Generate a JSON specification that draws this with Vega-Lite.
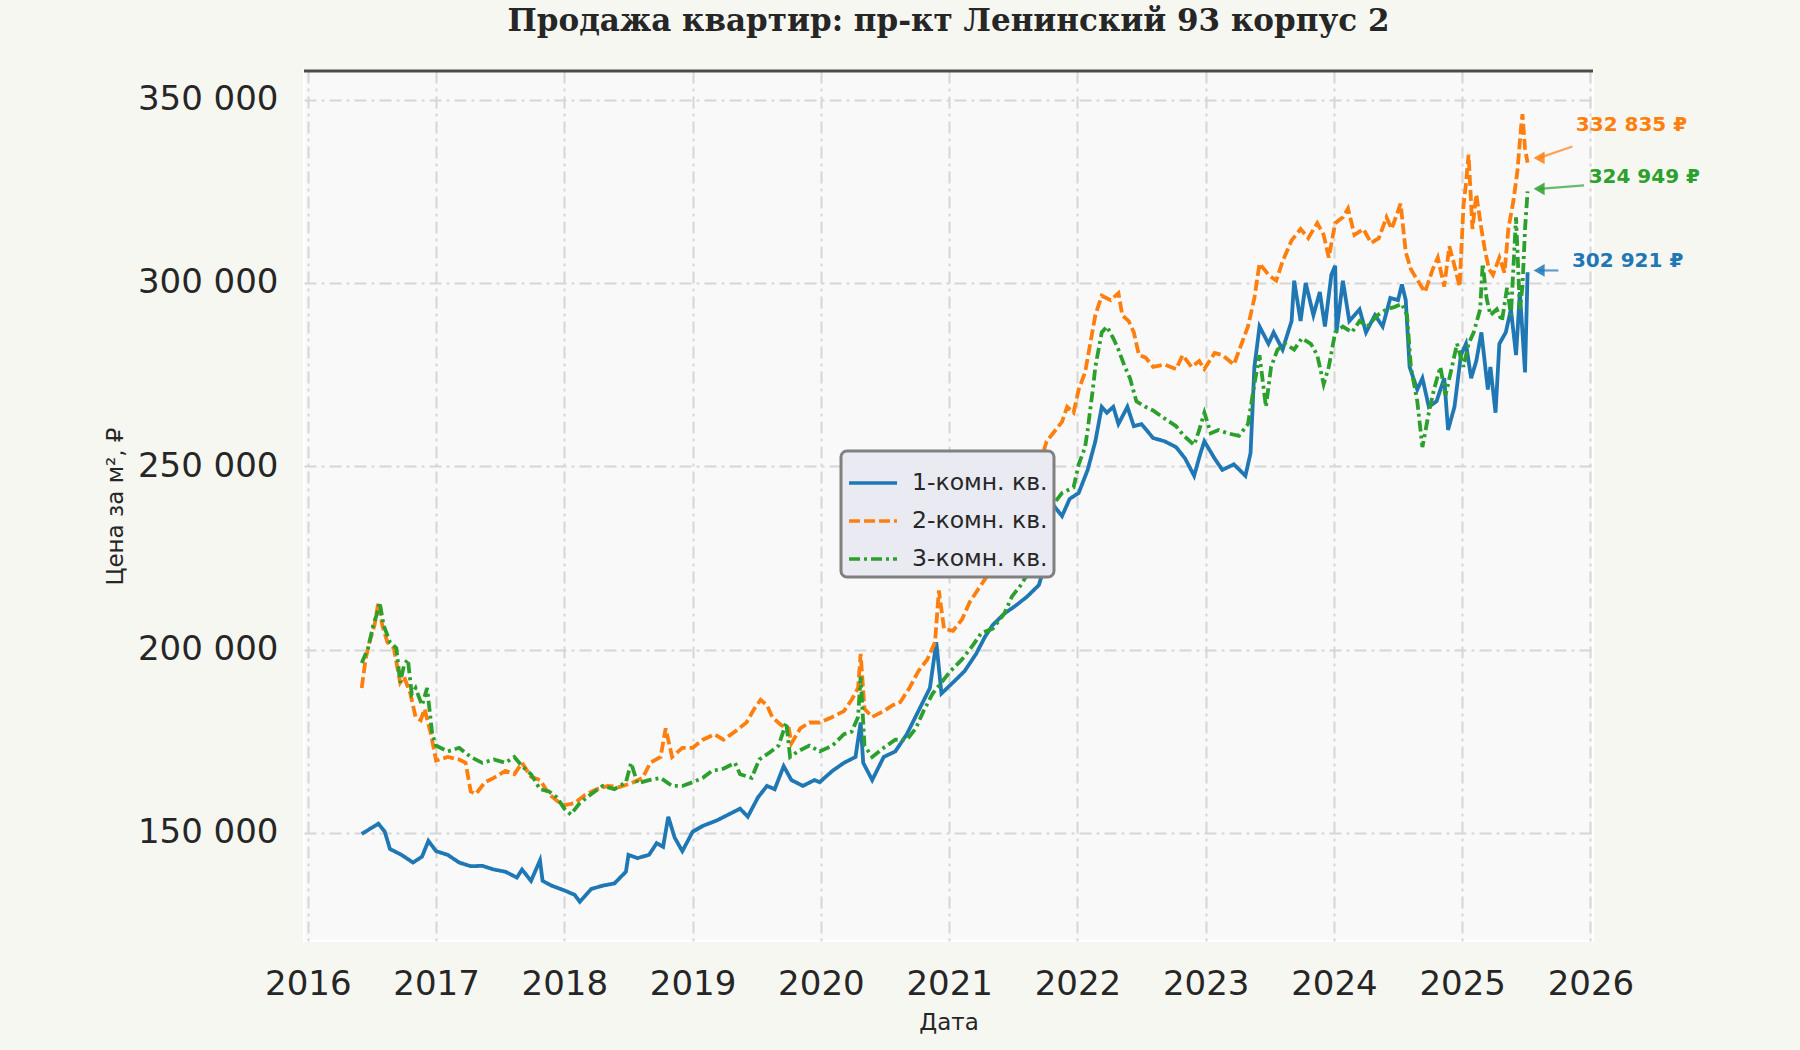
{
  "$schema": "https://vega.github.io/schema/vega-lite/v6.json",
  "width": 1289,
  "height": 870,
  "autosize": {"type": "none"},
  "padding": {"left": 304, "top": 71, "right": 207, "bottom": 109},
  "background": "#f7f7f2",
  "title": {
    "text": "Продажа квартир: пр-кт Ленинский 93 корпус 2",
    "font": "DejaVu Serif",
    "fontSize": 31,
    "fontWeight": "bold",
    "color": "#262626",
    "anchor": "middle",
    "offset": 32
  },
  "config": {
    "view": {"fill": "#f9f9fa", "stroke": "#ffffff", "strokeWidth": 2},
    "axis": {
      "labelFont": "DejaVu Sans",
      "labelFontSize": 34,
      "labelColor": "#262626",
      "titleFont": "DejaVu Sans",
      "titleFontWeight": "normal",
      "titleColor": "#262626",
      "domain": false,
      "ticks": false,
      "grid": true,
      "gridColor": "#d6d6d6",
      "gridWidth": 2,
      "gridDash": [12, 5, 3, 5]
    },
    "legend": {
      "orient": "none",
      "legendX": 537,
      "legendY": 380,
      "fillColor": "#eaeaf2",
      "strokeColor": "#808080",
      "strokeWidth": 3,
      "cornerRadius": 6,
      "padding": 6,
      "labelFont": "DejaVu Sans",
      "labelFontSize": 23.5,
      "labelColor": "#262626",
      "labelOffset": 13,
      "symbolType": "stroke",
      "symbolSize": 2300,
      "symbolStrokeWidth": 3.5,
      "rowPadding": -4
    }
  },
  "datasets": {
    "series": [
      {"k": "1-комн. кв.", "t": 2016.42, "p": 149700},
      {"k": "1-комн. кв.", "t": 2016.55, "p": 152500},
      {"k": "1-комн. кв.", "t": 2016.60, "p": 150300},
      {"k": "1-комн. кв.", "t": 2016.64, "p": 145600},
      {"k": "1-комн. кв.", "t": 2016.73, "p": 144000},
      {"k": "1-комн. кв.", "t": 2016.82, "p": 141900},
      {"k": "1-комн. кв.", "t": 2016.89, "p": 143500},
      {"k": "1-комн. кв.", "t": 2016.94, "p": 147800},
      {"k": "1-комн. кв.", "t": 2017.00, "p": 145000},
      {"k": "1-комн. кв.", "t": 2017.09, "p": 144000},
      {"k": "1-комн. кв.", "t": 2017.18, "p": 141900},
      {"k": "1-комн. кв.", "t": 2017.27, "p": 140900},
      {"k": "1-комн. кв.", "t": 2017.36, "p": 141000},
      {"k": "1-комн. кв.", "t": 2017.45, "p": 140000},
      {"k": "1-комн. кв.", "t": 2017.54, "p": 139400},
      {"k": "1-комн. кв.", "t": 2017.63, "p": 137800},
      {"k": "1-комн. кв.", "t": 2017.67, "p": 140000},
      {"k": "1-комн. кв.", "t": 2017.74, "p": 136900},
      {"k": "1-комн. кв.", "t": 2017.81, "p": 142500},
      {"k": "1-комн. кв.", "t": 2017.83, "p": 136900},
      {"k": "1-комн. кв.", "t": 2017.90, "p": 135600},
      {"k": "1-комн. кв.", "t": 2018.00, "p": 134300},
      {"k": "1-комн. кв.", "t": 2018.08, "p": 133100},
      {"k": "1-комн. кв.", "t": 2018.12, "p": 131200},
      {"k": "1-комн. кв.", "t": 2018.21, "p": 134700},
      {"k": "1-комн. кв.", "t": 2018.30, "p": 135600},
      {"k": "1-комн. кв.", "t": 2018.39, "p": 136200},
      {"k": "1-комн. кв.", "t": 2018.48, "p": 139400},
      {"k": "1-комн. кв.", "t": 2018.50, "p": 144000},
      {"k": "1-комн. кв.", "t": 2018.57, "p": 143100},
      {"k": "1-комн. кв.", "t": 2018.66, "p": 144000},
      {"k": "1-комн. кв.", "t": 2018.72, "p": 147200},
      {"k": "1-комн. кв.", "t": 2018.77, "p": 146200},
      {"k": "1-комн. кв.", "t": 2018.81, "p": 154400},
      {"k": "1-комн. кв.", "t": 2018.86, "p": 148700},
      {"k": "1-комн. кв.", "t": 2018.92, "p": 145000},
      {"k": "1-комн. кв.", "t": 2019.00, "p": 150300},
      {"k": "1-комн. кв.", "t": 2019.08, "p": 151900},
      {"k": "1-комн. кв.", "t": 2019.19, "p": 153400},
      {"k": "1-комн. кв.", "t": 2019.28, "p": 155000},
      {"k": "1-комн. кв.", "t": 2019.37, "p": 156600},
      {"k": "1-комн. кв.", "t": 2019.43, "p": 154400},
      {"k": "1-комн. кв.", "t": 2019.51, "p": 159700},
      {"k": "1-комн. кв.", "t": 2019.58, "p": 162800},
      {"k": "1-комн. кв.", "t": 2019.64, "p": 161900},
      {"k": "1-комн. кв.", "t": 2019.71, "p": 168200},
      {"k": "1-комн. кв.", "t": 2019.77, "p": 164400},
      {"k": "1-комн. кв.", "t": 2019.86, "p": 162800},
      {"k": "1-комн. кв.", "t": 2019.95, "p": 164400},
      {"k": "1-комн. кв.", "t": 2019.99, "p": 163800},
      {"k": "1-комн. кв.", "t": 2020.09, "p": 166900},
      {"k": "1-комн. кв.", "t": 2020.18, "p": 169100},
      {"k": "1-комн. кв.", "t": 2020.27, "p": 170700},
      {"k": "1-комн. кв.", "t": 2020.31, "p": 180100},
      {"k": "1-комн. кв.", "t": 2020.33, "p": 169100},
      {"k": "1-комн. кв.", "t": 2020.40, "p": 164400},
      {"k": "1-комн. кв.", "t": 2020.49, "p": 170700},
      {"k": "1-комн. кв.", "t": 2020.58, "p": 172200},
      {"k": "1-комн. кв.", "t": 2020.67, "p": 176900},
      {"k": "1-комн. кв.", "t": 2020.76, "p": 183200},
      {"k": "1-комн. кв.", "t": 2020.85, "p": 189500},
      {"k": "1-комн. кв.", "t": 2020.90, "p": 202000},
      {"k": "1-комн. кв.", "t": 2020.94, "p": 188000},
      {"k": "1-комн. кв.", "t": 2021.03, "p": 191000},
      {"k": "1-комн. кв.", "t": 2021.12, "p": 194100},
      {"k": "1-комн. кв.", "t": 2021.21, "p": 198800},
      {"k": "1-комн. кв.", "t": 2021.28, "p": 203500},
      {"k": "1-комн. кв.", "t": 2021.34, "p": 206700},
      {"k": "1-комн. кв.", "t": 2021.43, "p": 209800},
      {"k": "1-комн. кв.", "t": 2021.52, "p": 212000},
      {"k": "1-комн. кв.", "t": 2021.61, "p": 214500},
      {"k": "1-комн. кв.", "t": 2021.70, "p": 217600},
      {"k": "1-комн. кв.", "t": 2021.74, "p": 222300},
      {"k": "1-комн. кв.", "t": 2021.77, "p": 233300},
      {"k": "1-комн. кв.", "t": 2021.81, "p": 239500},
      {"k": "1-комн. кв.", "t": 2021.88, "p": 236400},
      {"k": "1-комн. кв.", "t": 2021.94, "p": 241100},
      {"k": "1-комн. кв.", "t": 2022.01, "p": 242700},
      {"k": "1-комн. кв.", "t": 2022.08, "p": 249000},
      {"k": "1-комн. кв.", "t": 2022.14, "p": 256800},
      {"k": "1-комн. кв.", "t": 2022.19, "p": 266200},
      {"k": "1-комн. кв.", "t": 2022.23, "p": 264600},
      {"k": "1-комн. кв.", "t": 2022.28, "p": 266200},
      {"k": "1-комн. кв.", "t": 2022.32, "p": 261500},
      {"k": "1-комн. кв.", "t": 2022.39, "p": 266200},
      {"k": "1-комн. кв.", "t": 2022.44, "p": 260900},
      {"k": "1-комн. кв.", "t": 2022.50, "p": 261500},
      {"k": "1-комн. кв.", "t": 2022.59, "p": 257700},
      {"k": "1-комн. кв.", "t": 2022.68, "p": 256800},
      {"k": "1-комн. кв.", "t": 2022.77, "p": 255200},
      {"k": "1-комн. кв.", "t": 2022.84, "p": 252100},
      {"k": "1-комн. кв.", "t": 2022.91, "p": 247400},
      {"k": "1-комн. кв.", "t": 2022.96, "p": 253600},
      {"k": "1-комн. кв.", "t": 2022.99, "p": 256800},
      {"k": "1-комн. кв.", "t": 2023.07, "p": 252100},
      {"k": "1-комн. кв.", "t": 2023.13, "p": 249000},
      {"k": "1-комн. кв.", "t": 2023.22, "p": 250500},
      {"k": "1-комн. кв.", "t": 2023.31, "p": 247400},
      {"k": "1-комн. кв.", "t": 2023.35, "p": 253600},
      {"k": "1-комн. кв.", "t": 2023.38, "p": 277100},
      {"k": "1-комн. кв.", "t": 2023.42, "p": 288100},
      {"k": "1-комн. кв.", "t": 2023.49, "p": 283400},
      {"k": "1-комн. кв.", "t": 2023.53, "p": 286500},
      {"k": "1-комн. кв.", "t": 2023.60, "p": 281800},
      {"k": "1-комн. кв.", "t": 2023.67, "p": 289600},
      {"k": "1-комн. кв.", "t": 2023.69, "p": 300600},
      {"k": "1-комн. кв.", "t": 2023.74, "p": 289600},
      {"k": "1-комн. кв.", "t": 2023.78, "p": 300000},
      {"k": "1-комн. кв.", "t": 2023.84, "p": 291200},
      {"k": "1-комн. кв.", "t": 2023.89, "p": 297500},
      {"k": "1-комн. кв.", "t": 2023.93, "p": 288100},
      {"k": "1-комн. кв.", "t": 2023.98, "p": 302200},
      {"k": "1-комн. кв.", "t": 2024.01, "p": 304700},
      {"k": "1-комн. кв.", "t": 2024.02, "p": 286500},
      {"k": "1-комн. кв.", "t": 2024.07, "p": 300600},
      {"k": "1-комн. кв.", "t": 2024.12, "p": 289600},
      {"k": "1-комн. кв.", "t": 2024.20, "p": 292800},
      {"k": "1-комн. кв.", "t": 2024.25, "p": 286500},
      {"k": "1-комн. кв.", "t": 2024.32, "p": 291200},
      {"k": "1-комн. кв.", "t": 2024.38, "p": 288100},
      {"k": "1-комн. кв.", "t": 2024.44, "p": 295900},
      {"k": "1-комн. кв.", "t": 2024.50, "p": 295300},
      {"k": "1-комн. кв.", "t": 2024.53, "p": 299600},
      {"k": "1-комн. кв.", "t": 2024.56, "p": 295300},
      {"k": "1-комн. кв.", "t": 2024.59, "p": 277100},
      {"k": "1-комн. кв.", "t": 2024.65, "p": 270900},
      {"k": "1-комн. кв.", "t": 2024.69, "p": 274000},
      {"k": "1-комн. кв.", "t": 2024.74, "p": 266200},
      {"k": "1-комн. кв.", "t": 2024.80, "p": 267700},
      {"k": "1-комн. кв.", "t": 2024.86, "p": 274000},
      {"k": "1-комн. кв.", "t": 2024.89, "p": 259900},
      {"k": "1-комн. кв.", "t": 2024.94, "p": 266200},
      {"k": "1-комн. кв.", "t": 2024.99, "p": 280300},
      {"k": "1-комн. кв.", "t": 2025.03, "p": 283400},
      {"k": "1-комн. кв.", "t": 2025.07, "p": 274000},
      {"k": "1-комн. кв.", "t": 2025.11, "p": 278700},
      {"k": "1-комн. кв.", "t": 2025.15, "p": 286500},
      {"k": "1-комн. кв.", "t": 2025.20, "p": 270900},
      {"k": "1-комн. кв.", "t": 2025.22, "p": 277100},
      {"k": "1-комн. кв.", "t": 2025.26, "p": 264600},
      {"k": "1-комн. кв.", "t": 2025.29, "p": 283400},
      {"k": "1-комн. кв.", "t": 2025.34, "p": 286500},
      {"k": "1-комн. кв.", "t": 2025.38, "p": 292800},
      {"k": "1-комн. кв.", "t": 2025.42, "p": 280300},
      {"k": "1-комн. кв.", "t": 2025.45, "p": 297500},
      {"k": "1-комн. кв.", "t": 2025.47, "p": 286500},
      {"k": "1-комн. кв.", "t": 2025.49, "p": 275600},
      {"k": "1-комн. кв.", "t": 2025.51, "p": 302921},
      {"k": "2-комн. кв.", "t": 2016.42, "p": 189500},
      {"k": "2-комн. кв.", "t": 2016.45, "p": 197300},
      {"k": "2-комн. кв.", "t": 2016.48, "p": 202000},
      {"k": "2-комн. кв.", "t": 2016.52, "p": 206700},
      {"k": "2-комн. кв.", "t": 2016.55, "p": 212900},
      {"k": "2-комн. кв.", "t": 2016.58, "p": 206700},
      {"k": "2-комн. кв.", "t": 2016.62, "p": 202000},
      {"k": "2-комн. кв.", "t": 2016.67, "p": 200400},
      {"k": "2-комн. кв.", "t": 2016.72, "p": 191000},
      {"k": "2-комн. кв.", "t": 2016.75, "p": 192600},
      {"k": "2-комн. кв.", "t": 2016.80, "p": 187900},
      {"k": "2-комн. кв.", "t": 2016.84, "p": 181600},
      {"k": "2-комн. кв.", "t": 2016.88, "p": 180700},
      {"k": "2-комн. кв.", "t": 2016.91, "p": 183800},
      {"k": "2-комн. кв.", "t": 2016.96, "p": 176900},
      {"k": "2-комн. кв.", "t": 2017.00, "p": 169700},
      {"k": "2-комн. кв.", "t": 2017.09, "p": 170700},
      {"k": "2-комн. кв.", "t": 2017.18, "p": 170000},
      {"k": "2-комн. кв.", "t": 2017.23, "p": 169100},
      {"k": "2-комн. кв.", "t": 2017.27, "p": 161300},
      {"k": "2-комн. кв.", "t": 2017.31, "p": 160600},
      {"k": "2-комн. кв.", "t": 2017.38, "p": 163800},
      {"k": "2-комн. кв.", "t": 2017.45, "p": 165000},
      {"k": "2-комн. кв.", "t": 2017.54, "p": 166900},
      {"k": "2-комн. кв.", "t": 2017.61, "p": 166000},
      {"k": "2-комн. кв.", "t": 2017.67, "p": 169100},
      {"k": "2-комн. кв.", "t": 2017.74, "p": 165300},
      {"k": "2-комн. кв.", "t": 2017.81, "p": 164400},
      {"k": "2-комн. кв.", "t": 2017.88, "p": 160600},
      {"k": "2-комн. кв.", "t": 2017.94, "p": 158800},
      {"k": "2-комн. кв.", "t": 2018.00, "p": 157500},
      {"k": "2-комн. кв.", "t": 2018.08, "p": 158100},
      {"k": "2-комн. кв.", "t": 2018.16, "p": 160300},
      {"k": "2-комн. кв.", "t": 2018.25, "p": 161900},
      {"k": "2-комн. кв.", "t": 2018.34, "p": 162800},
      {"k": "2-комн. кв.", "t": 2018.43, "p": 162500},
      {"k": "2-комн. кв.", "t": 2018.52, "p": 163500},
      {"k": "2-комн. кв.", "t": 2018.61, "p": 165000},
      {"k": "2-комн. кв.", "t": 2018.67, "p": 169100},
      {"k": "2-комн. кв.", "t": 2018.75, "p": 170700},
      {"k": "2-комн. кв.", "t": 2018.79, "p": 178500},
      {"k": "2-комн. кв.", "t": 2018.84, "p": 170700},
      {"k": "2-комн. кв.", "t": 2018.92, "p": 173200},
      {"k": "2-комн. кв.", "t": 2019.00, "p": 173200},
      {"k": "2-комн. кв.", "t": 2019.08, "p": 175400},
      {"k": "2-комн. кв.", "t": 2019.17, "p": 176900},
      {"k": "2-комн. кв.", "t": 2019.24, "p": 175400},
      {"k": "2-комн. кв.", "t": 2019.33, "p": 177600},
      {"k": "2-комн. кв.", "t": 2019.42, "p": 180100},
      {"k": "2-комн. кв.", "t": 2019.48, "p": 183800},
      {"k": "2-комн. кв.", "t": 2019.53, "p": 186300},
      {"k": "2-комн. кв.", "t": 2019.58, "p": 184800},
      {"k": "2-комн. кв.", "t": 2019.62, "p": 181600},
      {"k": "2-комн. кв.", "t": 2019.69, "p": 179400},
      {"k": "2-комн. кв.", "t": 2019.75, "p": 178500},
      {"k": "2-комн. кв.", "t": 2019.77, "p": 174400},
      {"k": "2-комн. кв.", "t": 2019.84, "p": 178500},
      {"k": "2-комн. кв.", "t": 2019.91, "p": 180100},
      {"k": "2-комн. кв.", "t": 2019.99, "p": 180100},
      {"k": "2-комн. кв.", "t": 2020.09, "p": 181600},
      {"k": "2-комн. кв.", "t": 2020.18, "p": 183200},
      {"k": "2-комн. кв.", "t": 2020.24, "p": 186300},
      {"k": "2-комн. кв.", "t": 2020.29, "p": 189500},
      {"k": "2-комн. кв.", "t": 2020.31, "p": 198800},
      {"k": "2-комн. кв.", "t": 2020.34, "p": 183800},
      {"k": "2-комн. кв.", "t": 2020.40, "p": 181600},
      {"k": "2-комн. кв.", "t": 2020.49, "p": 183200},
      {"k": "2-комн. кв.", "t": 2020.56, "p": 184800},
      {"k": "2-комн. кв.", "t": 2020.62, "p": 185700},
      {"k": "2-комн. кв.", "t": 2020.69, "p": 189500},
      {"k": "2-комн. кв.", "t": 2020.76, "p": 194100},
      {"k": "2-комн. кв.", "t": 2020.83, "p": 197300},
      {"k": "2-комн. кв.", "t": 2020.89, "p": 202000},
      {"k": "2-комн. кв.", "t": 2020.92, "p": 216100},
      {"k": "2-комн. кв.", "t": 2020.96, "p": 205700},
      {"k": "2-комн. кв.", "t": 2021.03, "p": 205100},
      {"k": "2-комн. кв.", "t": 2021.10, "p": 208200},
      {"k": "2-комн. кв.", "t": 2021.16, "p": 212900},
      {"k": "2-комн. кв.", "t": 2021.22, "p": 216100},
      {"k": "2-комн. кв.", "t": 2021.28, "p": 219200},
      {"k": "2-комн. кв.", "t": 2021.31, "p": 220800},
      {"k": "2-комн. кв.", "t": 2021.38, "p": 227600},
      {"k": "2-комн. кв.", "t": 2021.46, "p": 230200},
      {"k": "2-комн. кв.", "t": 2021.52, "p": 233300},
      {"k": "2-комн. кв.", "t": 2021.56, "p": 238000},
      {"k": "2-комн. кв.", "t": 2021.64, "p": 241100},
      {"k": "2-комн. кв.", "t": 2021.68, "p": 245800},
      {"k": "2-комн. кв.", "t": 2021.72, "p": 252100},
      {"k": "2-комн. кв.", "t": 2021.76, "p": 256800},
      {"k": "2-комн. кв.", "t": 2021.81, "p": 259000},
      {"k": "2-комн. кв.", "t": 2021.88, "p": 262100},
      {"k": "2-комн. кв.", "t": 2021.92, "p": 266200},
      {"k": "2-комн. кв.", "t": 2021.97, "p": 264600},
      {"k": "2-комн. кв.", "t": 2022.01, "p": 270900},
      {"k": "2-комн. кв.", "t": 2022.06, "p": 275600},
      {"k": "2-комн. кв.", "t": 2022.10, "p": 283400},
      {"k": "2-комн. кв.", "t": 2022.14, "p": 291200},
      {"k": "2-комн. кв.", "t": 2022.19, "p": 296500},
      {"k": "2-комн. кв.", "t": 2022.26, "p": 295300},
      {"k": "2-комн. кв.", "t": 2022.32, "p": 297200},
      {"k": "2-комн. кв.", "t": 2022.35, "p": 291200},
      {"k": "2-комн. кв.", "t": 2022.40, "p": 289600},
      {"k": "2-комн. кв.", "t": 2022.44, "p": 286500},
      {"k": "2-комн. кв.", "t": 2022.48, "p": 280300},
      {"k": "2-комн. кв.", "t": 2022.53, "p": 279700},
      {"k": "2-комн. кв.", "t": 2022.59, "p": 277100},
      {"k": "2-комн. кв.", "t": 2022.68, "p": 277700},
      {"k": "2-комн. кв.", "t": 2022.77, "p": 276500},
      {"k": "2-комн. кв.", "t": 2022.82, "p": 280300},
      {"k": "2-комн. кв.", "t": 2022.89, "p": 277100},
      {"k": "2-комн. кв.", "t": 2022.95, "p": 278700},
      {"k": "2-комн. кв.", "t": 2022.99, "p": 276500},
      {"k": "2-комн. кв.", "t": 2023.07, "p": 280900},
      {"k": "2-комн. кв.", "t": 2023.13, "p": 280300},
      {"k": "2-комн. кв.", "t": 2023.22, "p": 277700},
      {"k": "2-комн. кв.", "t": 2023.28, "p": 283400},
      {"k": "2-комн. кв.", "t": 2023.33, "p": 288100},
      {"k": "2-комн. кв.", "t": 2023.38, "p": 295900},
      {"k": "2-комн. кв.", "t": 2023.42, "p": 305300},
      {"k": "2-комн. кв.", "t": 2023.49, "p": 302200},
      {"k": "2-комн. кв.", "t": 2023.55, "p": 300600},
      {"k": "2-комн. кв.", "t": 2023.60, "p": 305900},
      {"k": "2-комн. кв.", "t": 2023.67, "p": 311600},
      {"k": "2-комн. кв.", "t": 2023.74, "p": 314700},
      {"k": "2-комн. кв.", "t": 2023.80, "p": 312200},
      {"k": "2-комн. кв.", "t": 2023.87, "p": 316300},
      {"k": "2-комн. кв.", "t": 2023.92, "p": 313100},
      {"k": "2-комн. кв.", "t": 2023.96, "p": 306900},
      {"k": "2-комн. кв.", "t": 2024.01, "p": 316300},
      {"k": "2-комн. кв.", "t": 2024.07, "p": 317900},
      {"k": "2-комн. кв.", "t": 2024.11, "p": 320300},
      {"k": "2-комн. кв.", "t": 2024.16, "p": 313100},
      {"k": "2-комн. кв.", "t": 2024.23, "p": 314700},
      {"k": "2-комн. кв.", "t": 2024.29, "p": 310900},
      {"k": "2-комн. кв.", "t": 2024.35, "p": 312200},
      {"k": "2-комн. кв.", "t": 2024.41, "p": 317900},
      {"k": "2-комн. кв.", "t": 2024.45, "p": 314700},
      {"k": "2-комн. кв.", "t": 2024.52, "p": 321600},
      {"k": "2-комн. кв.", "t": 2024.56, "p": 308400},
      {"k": "2-комн. кв.", "t": 2024.60, "p": 303700},
      {"k": "2-комн. кв.", "t": 2024.67, "p": 299700},
      {"k": "2-комн. кв.", "t": 2024.71, "p": 297500},
      {"k": "2-комн. кв.", "t": 2024.77, "p": 303700},
      {"k": "2-комн. кв.", "t": 2024.81, "p": 306900},
      {"k": "2-комн. кв.", "t": 2024.86, "p": 299000},
      {"k": "2-комн. кв.", "t": 2024.90, "p": 310000},
      {"k": "2-комн. кв.", "t": 2024.94, "p": 304700},
      {"k": "2-комн. кв.", "t": 2024.98, "p": 299000},
      {"k": "2-комн. кв.", "t": 2025.01, "p": 320900},
      {"k": "2-комн. кв.", "t": 2025.03, "p": 327200},
      {"k": "2-комн. кв.", "t": 2025.05, "p": 335000},
      {"k": "2-комн. кв.", "t": 2025.08, "p": 314700},
      {"k": "2-комн. кв.", "t": 2025.11, "p": 324100},
      {"k": "2-комн. кв.", "t": 2025.15, "p": 314700},
      {"k": "2-комн. кв.", "t": 2025.18, "p": 308400},
      {"k": "2-комн. кв.", "t": 2025.21, "p": 303700},
      {"k": "2-комн. кв.", "t": 2025.24, "p": 302200},
      {"k": "2-комн. кв.", "t": 2025.29, "p": 306900},
      {"k": "2-комн. кв.", "t": 2025.33, "p": 302800},
      {"k": "2-комн. кв.", "t": 2025.36, "p": 314700},
      {"k": "2-комн. кв.", "t": 2025.40, "p": 322500},
      {"k": "2-комн. кв.", "t": 2025.43, "p": 330300},
      {"k": "2-комн. кв.", "t": 2025.46, "p": 342800},
      {"k": "2-комн. кв.", "t": 2025.47, "p": 346000},
      {"k": "2-комн. кв.", "t": 2025.49, "p": 336600},
      {"k": "2-комн. кв.", "t": 2025.51, "p": 332835},
      {"k": "3-комн. кв.", "t": 2016.42, "p": 196300},
      {"k": "3-комн. кв.", "t": 2016.47, "p": 200400},
      {"k": "3-комн. кв.", "t": 2016.51, "p": 206700},
      {"k": "3-комн. кв.", "t": 2016.54, "p": 209800},
      {"k": "3-комн. кв.", "t": 2016.56, "p": 212900},
      {"k": "3-комн. кв.", "t": 2016.59, "p": 206700},
      {"k": "3-комн. кв.", "t": 2016.64, "p": 202000},
      {"k": "3-комн. кв.", "t": 2016.69, "p": 200400},
      {"k": "3-комн. кв.", "t": 2016.72, "p": 191000},
      {"k": "3-комн. кв.", "t": 2016.75, "p": 195700},
      {"k": "3-комн. кв.", "t": 2016.78, "p": 197300},
      {"k": "3-комн. кв.", "t": 2016.81, "p": 187900},
      {"k": "3-комн. кв.", "t": 2016.84, "p": 189500},
      {"k": "3-комн. кв.", "t": 2016.89, "p": 184800},
      {"k": "3-комн. кв.", "t": 2016.93, "p": 189500},
      {"k": "3-комн. кв.", "t": 2016.97, "p": 176900},
      {"k": "3-комн. кв.", "t": 2017.00, "p": 173800},
      {"k": "3-комн. кв.", "t": 2017.09, "p": 172200},
      {"k": "3-комн. кв.", "t": 2017.18, "p": 173200},
      {"k": "3-комн. кв.", "t": 2017.27, "p": 170700},
      {"k": "3-комн. кв.", "t": 2017.36, "p": 169100},
      {"k": "3-комн. кв.", "t": 2017.45, "p": 170000},
      {"k": "3-комн. кв.", "t": 2017.54, "p": 169100},
      {"k": "3-комн. кв.", "t": 2017.61, "p": 170700},
      {"k": "3-комн. кв.", "t": 2017.67, "p": 168200},
      {"k": "3-комн. кв.", "t": 2017.74, "p": 166000},
      {"k": "3-комн. кв.", "t": 2017.81, "p": 161900},
      {"k": "3-комн. кв.", "t": 2017.88, "p": 161300},
      {"k": "3-комн. кв.", "t": 2017.94, "p": 159700},
      {"k": "3-комн. кв.", "t": 2018.00, "p": 156600},
      {"k": "3-комн. кв.", "t": 2018.05, "p": 155000},
      {"k": "3-комн. кв.", "t": 2018.12, "p": 158100},
      {"k": "3-комн. кв.", "t": 2018.21, "p": 160600},
      {"k": "3-комн. кв.", "t": 2018.30, "p": 162800},
      {"k": "3-комн. кв.", "t": 2018.39, "p": 161900},
      {"k": "3-комн. кв.", "t": 2018.48, "p": 163800},
      {"k": "3-комн. кв.", "t": 2018.52, "p": 169100},
      {"k": "3-комн. кв.", "t": 2018.57, "p": 163500},
      {"k": "3-комн. кв.", "t": 2018.66, "p": 164400},
      {"k": "3-комн. кв.", "t": 2018.75, "p": 165000},
      {"k": "3-комн. кв.", "t": 2018.84, "p": 162800},
      {"k": "3-комн. кв.", "t": 2018.92, "p": 162800},
      {"k": "3-комн. кв.", "t": 2019.00, "p": 163800},
      {"k": "3-комн. кв.", "t": 2019.08, "p": 165000},
      {"k": "3-комн. кв.", "t": 2019.15, "p": 166900},
      {"k": "3-комн. кв.", "t": 2019.24, "p": 167500},
      {"k": "3-комн. кв.", "t": 2019.33, "p": 169100},
      {"k": "3-комн. кв.", "t": 2019.37, "p": 166000},
      {"k": "3-комн. кв.", "t": 2019.46, "p": 165000},
      {"k": "3-комн. кв.", "t": 2019.52, "p": 170000},
      {"k": "3-комн. кв.", "t": 2019.60, "p": 171900},
      {"k": "3-комн. кв.", "t": 2019.67, "p": 173800},
      {"k": "3-комн. кв.", "t": 2019.73, "p": 180100},
      {"k": "3-комн. кв.", "t": 2019.76, "p": 170700},
      {"k": "3-комн. кв.", "t": 2019.82, "p": 172200},
      {"k": "3-комн. кв.", "t": 2019.91, "p": 173800},
      {"k": "3-комн. кв.", "t": 2019.99, "p": 172200},
      {"k": "3-комн. кв.", "t": 2020.09, "p": 173800},
      {"k": "3-комн. кв.", "t": 2020.18, "p": 176900},
      {"k": "3-комн. кв.", "t": 2020.24, "p": 177600},
      {"k": "3-комн. кв.", "t": 2020.29, "p": 181600},
      {"k": "3-комн. кв.", "t": 2020.31, "p": 192600},
      {"k": "3-комн. кв.", "t": 2020.34, "p": 173800},
      {"k": "3-комн. кв.", "t": 2020.40, "p": 170700},
      {"k": "3-комн. кв.", "t": 2020.49, "p": 173200},
      {"k": "3-комн. кв.", "t": 2020.58, "p": 175400},
      {"k": "3-комн. кв.", "t": 2020.67, "p": 175400},
      {"k": "3-комн. кв.", "t": 2020.74, "p": 178500},
      {"k": "3-комн. кв.", "t": 2020.80, "p": 183200},
      {"k": "3-комн. кв.", "t": 2020.87, "p": 187900},
      {"k": "3-комн. кв.", "t": 2020.94, "p": 191000},
      {"k": "3-комн. кв.", "t": 2021.01, "p": 194100},
      {"k": "3-комн. кв.", "t": 2021.10, "p": 197300},
      {"k": "3-комн. кв.", "t": 2021.19, "p": 201400},
      {"k": "3-комн. кв.", "t": 2021.25, "p": 204500},
      {"k": "3-комн. кв.", "t": 2021.34, "p": 205700},
      {"k": "3-комн. кв.", "t": 2021.43, "p": 209800},
      {"k": "3-комн. кв.", "t": 2021.49, "p": 214500},
      {"k": "3-комн. кв.", "t": 2021.56, "p": 217600},
      {"k": "3-комн. кв.", "t": 2021.64, "p": 222300},
      {"k": "3-комн. кв.", "t": 2021.70, "p": 226100},
      {"k": "3-комн. кв.", "t": 2021.76, "p": 230200},
      {"k": "3-комн. кв.", "t": 2021.81, "p": 239500},
      {"k": "3-комн. кв.", "t": 2021.88, "p": 242700},
      {"k": "3-комн. кв.", "t": 2021.97, "p": 244200},
      {"k": "3-комн. кв.", "t": 2022.01, "p": 250500},
      {"k": "3-комн. кв.", "t": 2022.06, "p": 255200},
      {"k": "3-комн. кв.", "t": 2022.08, "p": 259900},
      {"k": "3-комн. кв.", "t": 2022.12, "p": 270900},
      {"k": "3-комн. кв.", "t": 2022.14, "p": 277100},
      {"k": "3-комн. кв.", "t": 2022.19, "p": 286500},
      {"k": "3-комн. кв.", "t": 2022.23, "p": 288100},
      {"k": "3-комн. кв.", "t": 2022.28, "p": 284900},
      {"k": "3-комн. кв.", "t": 2022.32, "p": 281800},
      {"k": "3-комн. кв.", "t": 2022.37, "p": 277100},
      {"k": "3-комн. кв.", "t": 2022.41, "p": 274000},
      {"k": "3-комн. кв.", "t": 2022.46, "p": 267700},
      {"k": "3-комн. кв.", "t": 2022.53, "p": 266200},
      {"k": "3-комн. кв.", "t": 2022.59, "p": 265200},
      {"k": "3-комн. кв.", "t": 2022.68, "p": 263000},
      {"k": "3-комн. кв.", "t": 2022.77, "p": 260900},
      {"k": "3-комн. кв.", "t": 2022.83, "p": 258300},
      {"k": "3-комн. кв.", "t": 2022.91, "p": 255800},
      {"k": "3-комн. кв.", "t": 2022.95, "p": 259900},
      {"k": "3-комн. кв.", "t": 2022.99, "p": 264600},
      {"k": "3-комн. кв.", "t": 2023.04, "p": 259000},
      {"k": "3-комн. кв.", "t": 2023.10, "p": 259900},
      {"k": "3-комн. кв.", "t": 2023.17, "p": 259000},
      {"k": "3-комн. кв.", "t": 2023.26, "p": 258300},
      {"k": "3-комн. кв.", "t": 2023.33, "p": 261500},
      {"k": "3-комн. кв.", "t": 2023.38, "p": 272400},
      {"k": "3-комн. кв.", "t": 2023.42, "p": 280300},
      {"k": "3-комн. кв.", "t": 2023.47, "p": 266200},
      {"k": "3-комн. кв.", "t": 2023.51, "p": 277100},
      {"k": "3-комн. кв.", "t": 2023.56, "p": 281800},
      {"k": "3-комн. кв.", "t": 2023.62, "p": 283400},
      {"k": "3-комн. кв.", "t": 2023.69, "p": 281800},
      {"k": "3-комн. кв.", "t": 2023.75, "p": 284900},
      {"k": "3-комн. кв.", "t": 2023.82, "p": 283400},
      {"k": "3-комн. кв.", "t": 2023.87, "p": 280300},
      {"k": "3-комн. кв.", "t": 2023.92, "p": 272400},
      {"k": "3-комн. кв.", "t": 2023.96, "p": 277100},
      {"k": "3-комн. кв.", "t": 2024.01, "p": 286500},
      {"k": "3-комн. кв.", "t": 2024.07, "p": 288100},
      {"k": "3-комн. кв.", "t": 2024.14, "p": 286500},
      {"k": "3-комн. кв.", "t": 2024.20, "p": 289600},
      {"k": "3-комн. кв.", "t": 2024.26, "p": 288100},
      {"k": "3-комн. кв.", "t": 2024.34, "p": 291200},
      {"k": "3-комн. кв.", "t": 2024.41, "p": 292800},
      {"k": "3-комн. кв.", "t": 2024.47, "p": 293400},
      {"k": "3-комн. кв.", "t": 2024.53, "p": 294300},
      {"k": "3-комн. кв.", "t": 2024.57, "p": 291200},
      {"k": "3-комн. кв.", "t": 2024.60, "p": 277100},
      {"k": "3-комн. кв.", "t": 2024.65, "p": 267700},
      {"k": "3-комн. кв.", "t": 2024.69, "p": 255200},
      {"k": "3-комн. кв.", "t": 2024.74, "p": 264600},
      {"k": "3-комн. кв.", "t": 2024.78, "p": 270900},
      {"k": "3-комн. кв.", "t": 2024.83, "p": 277100},
      {"k": "3-комн. кв.", "t": 2024.87, "p": 269300},
      {"k": "3-комн. кв.", "t": 2024.92, "p": 277100},
      {"k": "3-комн. кв.", "t": 2024.96, "p": 283400},
      {"k": "3-комн. кв.", "t": 2025.01, "p": 277100},
      {"k": "3-комн. кв.", "t": 2025.05, "p": 283400},
      {"k": "3-комн. кв.", "t": 2025.09, "p": 286500},
      {"k": "3-комн. кв.", "t": 2025.14, "p": 292800},
      {"k": "3-комн. кв.", "t": 2025.16, "p": 305300},
      {"k": "3-комн. кв.", "t": 2025.19, "p": 295900},
      {"k": "3-комн. кв.", "t": 2025.22, "p": 291200},
      {"k": "3-комн. кв.", "t": 2025.27, "p": 292800},
      {"k": "3-комн. кв.", "t": 2025.31, "p": 289600},
      {"k": "3-комн. кв.", "t": 2025.35, "p": 298700},
      {"k": "3-комн. кв.", "t": 2025.38, "p": 291200},
      {"k": "3-комн. кв.", "t": 2025.42, "p": 317900},
      {"k": "3-комн. кв.", "t": 2025.45, "p": 292800},
      {"k": "3-комн. кв.", "t": 2025.47, "p": 299000},
      {"k": "3-комн. кв.", "t": 2025.49, "p": 314700},
      {"k": "3-комн. кв.", "t": 2025.51, "p": 324949}
    ],
    "notes": [
      {"k": "1-комн. кв.", "label": "302 921 ₽", "tx": 2026.29, "ty": 305900, "ax": 2025.75, "ay": 303400, "hx": 2025.60, "hy": 303400},
      {"k": "2-комн. кв.", "label": "332 835 ₽", "tx": 2026.32, "ty": 343200, "ax": 2025.86, "ay": 337200, "hx": 2025.60, "hy": 334100},
      {"k": "3-комн. кв.", "label": "324 949 ₽", "tx": 2026.42, "ty": 328800, "ax": 2025.95, "ay": 326600, "hx": 2025.60, "hy": 325650}
    ]
  },
  "layer": [
    {
      "data": {"values": [{}]},
      "mark": {"type": "rule", "color": "#4d4d4d", "strokeWidth": 3},
      "encoding": {"y": {"datum": 357800, "type": "quantitative"}}
    },
    {
      "data": {"name": "series"},
      "mark": {"type": "line", "strokeWidth": 3.8, "clip": true},
      "encoding": {
        "x": {
          "field": "t",
          "type": "quantitative",
          "title": "Дата",
          "scale": {"domain": [2015.97, 2026.02], "nice": false, "zero": false},
          "axis": {
            "values": [2016, 2017, 2018, 2019, 2020, 2021, 2022, 2023, 2024, 2025, 2026],
            "format": "d",
            "labelPadding": 26,
            "titleFontSize": 23,
            "titlePadding": 10
          }
        },
        "y": {
          "field": "p",
          "type": "quantitative",
          "title": "Цена за м², ₽",
          "scale": {"domain": [120500, 357800], "nice": false, "zero": false},
          "axis": {
            "values": [150000, 200000, 250000, 300000, 350000],
            "labelExpr": "replace(format(datum.value, ','), ',', ' ')",
            "labelPadding": 26,
            "titleFontSize": 23,
            "titlePadding": 10
          }
        },
        "color": {
          "field": "k",
          "type": "nominal",
          "title": null,
          "scale": {
            "domain": ["1-комн. кв.", "2-комн. кв.", "3-комн. кв."],
            "range": ["#1f77b4", "#ff7f0e", "#2ca02c"]
          }
        },
        "strokeDash": {
          "field": "k",
          "type": "nominal",
          "title": null,
          "scale": {
            "domain": ["1-комн. кв.", "2-комн. кв.", "3-комн. кв."],
            "range": [[1, 0], [11, 4], [11, 4, 3, 4]]
          }
        }
      }
    },
    {
      "data": {"name": "notes"},
      "mark": {"type": "rule", "strokeWidth": 2.2, "opacity": 0.7},
      "encoding": {
        "x": {"field": "ax", "type": "quantitative"},
        "y": {"field": "ay", "type": "quantitative"},
        "x2": {"field": "hx"},
        "y2": {"field": "hy"},
        "color": {
          "condition": [
            {"test": "datum.k === '2-комн. кв.'", "value": "#ff7f0e"},
            {"test": "datum.k === '3-комн. кв.'", "value": "#2ca02c"}
          ],
          "value": "#1f77b4"
        }
      }
    },
    {
      "data": {"name": "notes"},
      "mark": {"type": "point", "shape": "triangle-left", "filled": true, "size": 160, "opacity": 0.85},
      "encoding": {
        "x": {"field": "hx", "type": "quantitative"},
        "y": {"field": "hy", "type": "quantitative"},
        "color": {
          "condition": [
            {"test": "datum.k === '2-комн. кв.'", "value": "#ff7f0e"},
            {"test": "datum.k === '3-комн. кв.'", "value": "#2ca02c"}
          ],
          "value": "#1f77b4"
        }
      }
    },
    {
      "data": {"name": "notes"},
      "mark": {"type": "text", "font": "DejaVu Sans", "fontSize": 20, "fontWeight": "bold", "align": "center", "baseline": "middle"},
      "encoding": {
        "x": {"field": "tx", "type": "quantitative"},
        "y": {"field": "ty", "type": "quantitative"},
        "text": {"field": "label"},
        "color": {
          "condition": [
            {"test": "datum.k === '2-комн. кв.'", "value": "#ff7f0e"},
            {"test": "datum.k === '3-комн. кв.'", "value": "#2ca02c"}
          ],
          "value": "#1f77b4"
        }
      }
    }
  ]
}
